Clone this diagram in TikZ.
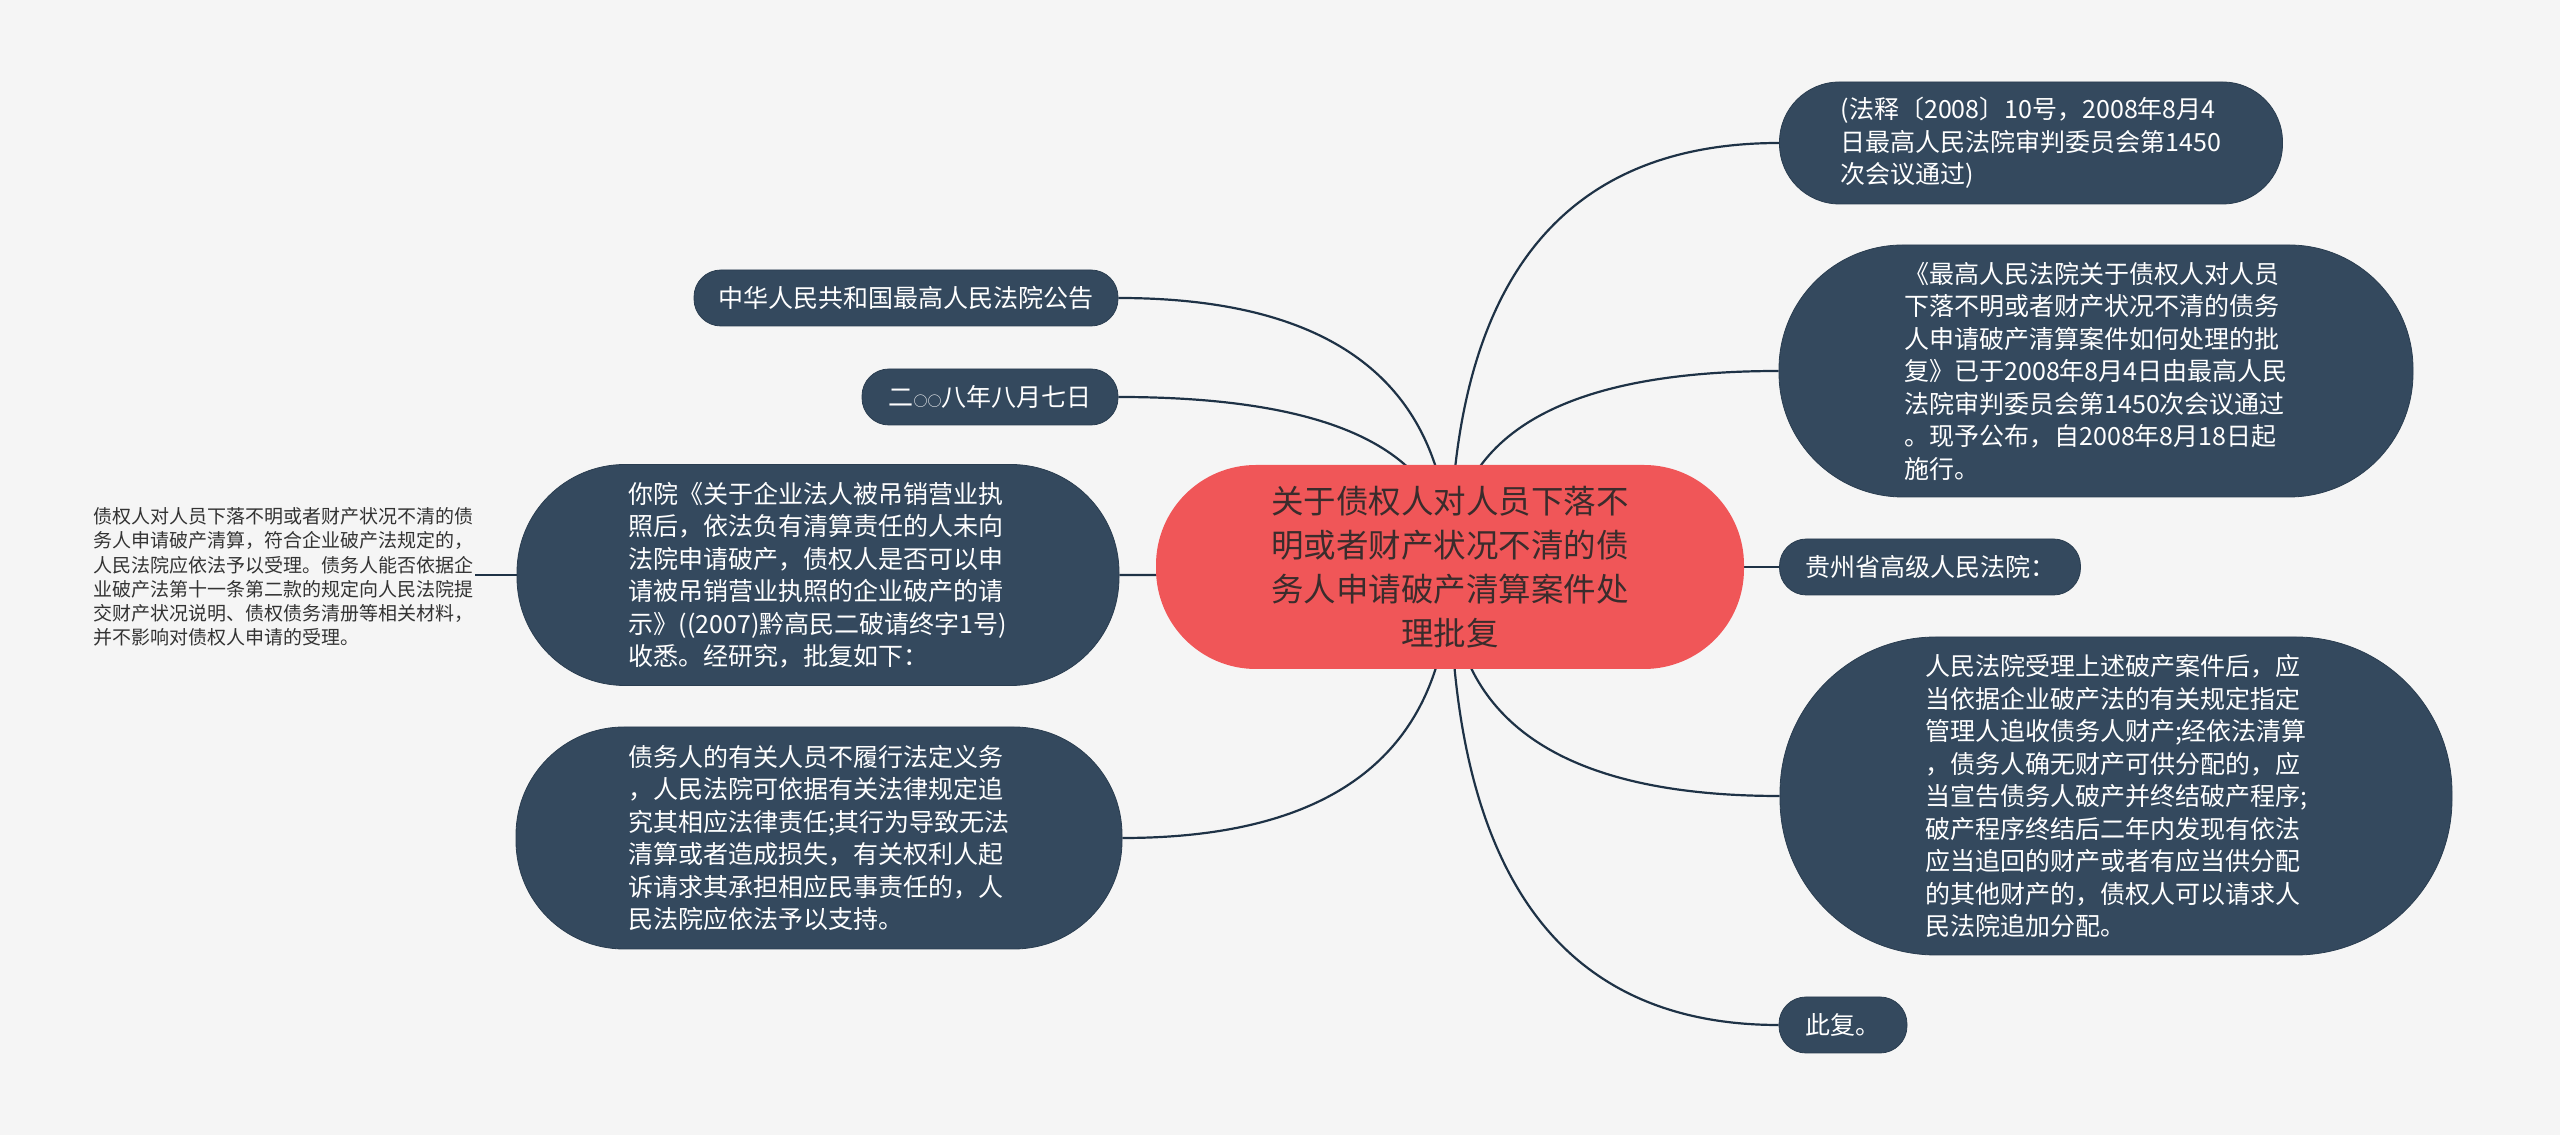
\documentclass[tikz,border=0pt]{standalone}
\usepackage{fontspec}
\newfontfamily\cjk{Noto Sans CJK SC}
\usetikzlibrary{calc}
\definecolor{bgc}{HTML}{F5F5F5}
\definecolor{dk}{HTML}{34495E}
\definecolor{dkline}{HTML}{2A3D50}
\definecolor{rootred}{HTML}{F05658}
\definecolor{roottext}{HTML}{3A2C2C}
\definecolor{connc}{HTML}{1E3246}
\definecolor{plaintext}{HTML}{333333}
\pgfdeclarelayer{bgfill}
\pgfdeclarelayer{background}
\pgfsetlayers{bgfill,background,main}
\begin{document}
\begin{tikzpicture}[x=1pt,y=1pt,
  pill/.style n args={3}{draw=dkline, line width=0.8pt, fill=dk, text=white, inner sep=0pt,
    minimum width=#1, minimum height=#2, rounded corners=#3, align=left,
    font=\cjk\fontsize{25}{32.5}\selectfont},
  rootbox/.style={fill=rootred, text=roottext, inner sep=0pt, minimum width=588pt,
    minimum height=204pt, rounded corners=100pt, align=center,
    font=\cjk\fontsize{32.5}{44}\selectfont},
  plainbox/.style={text=plaintext, inner sep=2pt, align=left,
    font=\cjk\fontsize{19}{24.2}\selectfont},
  conn/.style={draw=connc, line width=2.2pt}
]
\begin{pgfonlayer}{bgfill}
\fill[bgc] (0,0) rectangle (2560,1135);
\end{pgfonlayer}
\useasboundingbox (0,0) rectangle (2560,1135);

\node[rootbox] (c) at (1450,568) {关于债权人对人员下落不\\明或者财产状况不清的债\\务人申请破产清算案件处\\理批复};

\node[pill={503pt}{122pt}{60pt}] (n1) at (2031,992) {(法释〔2008〕10号，2008年8月4\\日最高人民法院审判委员会第1450\\次会议通过)};
\node[pill={634pt}{252pt}{124pt}] (n2) at (2096,764) {《最高人民法院关于债权人对人员\\下落不明或者财产状况不清的债务\\人申请破产清算案件如何处理的批\\复》已于2008年8月4日由最高人民\\法院审判委员会第1450次会议通过\\。现予公布，自2008年8月18日起\\施行。};
\node[pill={301pt}{56pt}{27pt}] (n3) at (1930,568) {贵州省高级人民法院：};
\node[pill={672pt}{318pt}{156pt}] (n4) at (2116,339) {人民法院受理上述破产案件后，应\\当依据企业破产法的有关规定指定\\管理人追收债务人财产;经依法清算\\，债务人确无财产可供分配的，应\\当宣告债务人破产并终结破产程序;\\破产程序终结后二年内发现有依法\\应当追回的财产或者有应当供分配\\的其他财产的，债权人可以请求人\\民法院追加分配。};
\node[pill={128pt}{56pt}{27pt}] (n5) at (1843,110) {此复。};

\node[pill={424pt}{56pt}{27pt}] (n6) at (906,837) {中华人民共和国最高人民法院公告};
\node[pill={256pt}{56pt}{27pt}] (n7) at (990,738) {二{\fontsize{14}{14}\selectfont ○○}八年八月七日};
\node[pill={602pt}{221pt}{108pt}] (n8) at (818,560) {你院《关于企业法人被吊销营业执\\照后，依法负有清算责任的人未向\\法院申请破产，债权人是否可以申\\请被吊销营业执照的企业破产的请\\示》((2007)黔高民二破请终字1号)\\收悉。经研究，批复如下：};
\node[pill={606pt}{222pt}{108pt}] (n9) at (819,297) {债务人的有关人员不履行法定义务\\，人民法院可依据有关法律规定追\\究其相应法律责任;其行为导致无法\\清算或者造成损失，有关权利人起\\诉请求其承担相应民事责任的，人\\民法院应依法予以支持。};

\node[plainbox] (n10) at (283,558) {债权人对人员下落不明或者财产状况不清的债\\务人申请破产清算，符合企业破产法规定的，\\人民法院应依法予以受理。债务人能否依据企\\业破产法第十一条第二款的规定向人民法院提\\交财产状况说明、债权债务清册等相关材料，\\并不影响对债权人申请的受理。};

\begin{pgfonlayer}{background}
\foreach \n in {n1,n2,n3,n4,n5} {
  \coordinate (q) at (c.center |- \n.west);
  \draw[conn] (c.center) .. controls ($(c.center)!0.6667!(q)$) and ($(\n.west)!0.6667!(q)$) .. (\n.west);
}
\foreach \n in {n6,n7,n8,n9} {
  \coordinate (q) at (c.center |- \n.east);
  \draw[conn] (c.center) .. controls ($(c.center)!0.6667!(q)$) and ($(\n.east)!0.6667!(q)$) .. (\n.east);
}
\draw[conn] (n8.west) -- (n8.west -| n10.east);
\end{pgfonlayer}
\end{tikzpicture}
\end{document}
